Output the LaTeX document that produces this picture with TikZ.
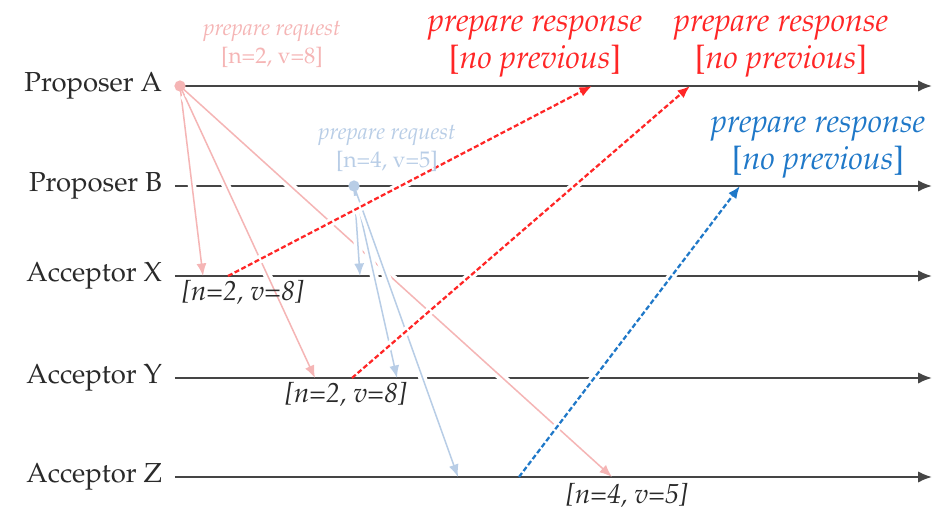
\documentclass[tikz,border=0pt]{standalone}
\usepackage[T1]{fontenc}
\usepackage{mathpazo}
\usepackage{tikz}
\usetikzlibrary{arrows.meta}
\definecolor{linea}{HTML}{454545}
\definecolor{rosa}{HTML}{F5B5B5}
\definecolor{celeste}{HTML}{B8CDE6}
\definecolor{rojo}{HTML}{FF2626}
\definecolor{azul}{HTML}{1F78C8}
\definecolor{texto}{HTML}{2A2A2A}
\tikzset{
  carril/.style={draw=linea, line width=0.8pt, -{Latex[length=5.5pt, width=4.5pt]}},
  nombre/.style={anchor=east, font=\fontsize{11}{13}\selectfont, text=texto, inner sep=1pt},
  halo/.style={preaction={draw=white, line width=3.4pt, -, solid, shorten <=4pt, shorten >=4pt}},
  pedido/.style={halo, line width=0.6pt, -{Latex[length=5pt, width=4pt]}},
  respuesta/.style={halo, line width=0.9pt, dash pattern=on 2pt off 1pt, -{Latex[length=5pt, width=4pt]}},
  etpedido/.style={align=center, font=\fontsize{9}{11.2}\selectfont, inner sep=0pt},
  etrespuesta/.style={align=center, font=\fontsize{12.9}{14.8}\selectfont, inner sep=0pt},
  valor/.style={font=\fontsize{11}{13}\selectfont\itshape, text=texto, inner sep=0pt},
  punto/.style={circle, inner sep=0pt, minimum size=4.5pt},
}

\begin{document}
\begin{tikzpicture}[x=0.4pt, y=-0.4pt]
  \useasboundingbox (0,0) rectangle (943,510);
  % carriles
  \node[nombre] (pa) at (165,86) {Proposer A};
  \node[nombre] (pb) at (165,186) {Proposer B};
  \node[nombre] (ax) at (165,276) {Acceptor X};
  \node[nombre] (ay) at (165,378) {Acceptor Y};
  \node[nombre] (az) at (165,477) {Acceptor Z};
  \foreach \c/\y in {a/86, b/186, x/276, y/378, z/477} {
    \coordinate (\c0) at (175,\y);
    \coordinate (\c1) at (932,\y);
    \draw[carril] (\c0) -- (\c1);
  }
  % eventos
  \coordinate (sa) at (180,86);
  \coordinate (sb) at (354,186);
  \coordinate (px) at (203,276);
  \coordinate (py) at (315,378);
  \coordinate (pz) at (612,477);
  \coordinate (qx) at (360,276);
  \coordinate (qy) at (397,378);
  \coordinate (qz) at (458,477);
  \coordinate (rx) at (228,276);
  \coordinate (ry) at (352,378);
  \coordinate (rz) at (519,477);
  \coordinate (ra1) at (592,86);
  \coordinate (ra2) at (690,86);
  \coordinate (rb) at (740,186);
  % pedidos
  \foreach \d in {px, py, pz} \draw[pedido, color=rosa] (sa) -- (\d);
  \foreach \d in {qx, qy, qz} \draw[pedido, color=celeste] (sb) -- (\d);
  % respuestas
  \draw[respuesta, color=rojo] (rx) -- (ra1);
  \draw[respuesta, color=rojo] (ry) -- (ra2);
  \draw[respuesta, color=azul] (rz) -- (rb);
  \node[punto, fill=rosa] (da) at (sa) {};
  \node[punto, fill=celeste] (db) at (sb) {};
  % etiquetas
  \node[etpedido, text=rosa] (ea) at (272,44) {\textit{prepare request}\\{[n=2, v=8]}};
  \node[etpedido, text=celeste] (eb) at (387,148) {\textit{prepare request}\\{[n=4, v=5]}};
  \node[etrespuesta, text=rojo] (r1) at (535,46) {\textit{prepare response}\\{[\textit{no previous}]}};
  \node[etrespuesta, text=rojo] (r2) at (781,46) {\textit{prepare response}\\{[\textit{no previous}]}};
  \node[etrespuesta, text=azul] (r3) at (818,147) {\textit{prepare response}\\{[\textit{no previous}]}};
  \node[valor] (vx) at (243,293) {[n=2, v=8]};
  \node[valor] (vy) at (346,395) {[n=2, v=8]};
  \node[valor] (vz) at (627,496) {[n=4, v=5]};
\end{tikzpicture}
\end{document}
